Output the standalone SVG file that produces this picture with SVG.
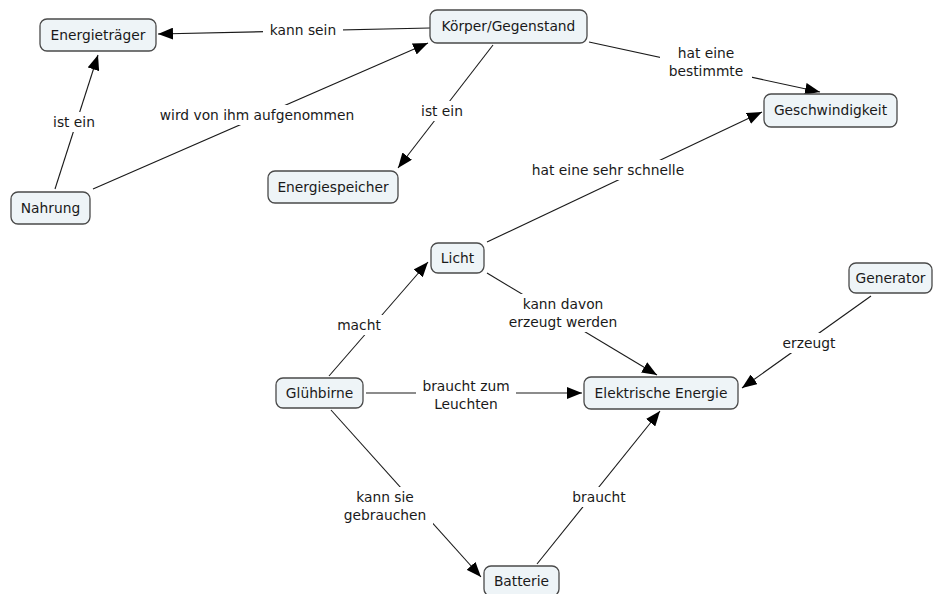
<svg xmlns="http://www.w3.org/2000/svg" width="933" height="594" viewBox="0 0 933 594">
<style>
.node rect{fill:#eef4f7;stroke:#4a4a4a;stroke-width:1.3}
text{font-family:"DejaVu Sans",Verdana,sans-serif;font-size:13.8px;fill:#1a1a1a;text-anchor:middle}
.edges line{stroke:#1a1a1a;stroke-width:1.1}
.lbl rect{fill:#fff;stroke:none}
</style>
<defs>
<marker id="arr" markerUnits="userSpaceOnUse" markerWidth="16" markerHeight="12" refX="15" refY="6" orient="auto">
<path d="M0,0 L15,6 L0,12 Z" fill="#000"/>
</marker>
</defs>
<rect width="933" height="594" fill="#fff"/>
<g class="edges">
<line x1="430" y1="28" x2="158" y2="34" marker-end="url(#arr)"/>
<line x1="55" y1="189" x2="98" y2="55" marker-end="url(#arr)"/>
<line x1="93" y1="189" x2="428" y2="43" marker-end="url(#arr)"/>
<line x1="493" y1="45" x2="398" y2="168" marker-end="url(#arr)"/>
<line x1="589" y1="42" x2="820" y2="92" marker-end="url(#arr)"/>
<line x1="487" y1="242" x2="762" y2="112" marker-end="url(#arr)"/>
<line x1="329" y1="376" x2="428" y2="262" marker-end="url(#arr)"/>
<line x1="487" y1="273" x2="657" y2="375" marker-end="url(#arr)"/>
<line x1="366" y1="393" x2="582" y2="393" marker-end="url(#arr)"/>
<line x1="871" y1="296" x2="742" y2="388" marker-end="url(#arr)"/>
<line x1="331" y1="410" x2="481" y2="577" marker-end="url(#arr)"/>
<line x1="537" y1="564" x2="660" y2="411" marker-end="url(#arr)"/>
</g>
<g class="lbl">
<rect x="263" y="20" width="80" height="20"/><text x="303" y="35">kann sein</text>
<rect x="46" y="112" width="56" height="20"/><text x="74" y="127">ist ein</text>
<rect x="150" y="105" width="214" height="20"/><text x="257" y="120">wird von ihm aufgenommen</text>
<rect x="414" y="101" width="56" height="20"/><text x="442" y="116">ist ein</text>
<rect x="660" y="43" width="92" height="38"/><text x="706" y="58">hat eine</text><text x="706" y="76">bestimmte</text>
<rect x="522" y="160" width="172" height="20"/><text x="608" y="175">hat eine sehr schnelle</text>
<rect x="331" y="315" width="56" height="20"/><text x="359" y="330">macht</text>
<rect x="501" y="294" width="124" height="38"/><text x="563" y="309">kann davon</text><text x="563" y="327">erzeugt werden</text>
<rect x="416" y="376" width="100" height="38"/><text x="466" y="391">braucht zum</text><text x="466" y="409">Leuchten</text>
<rect x="776" y="333" width="66" height="20"/><text x="809" y="348">erzeugt</text>
<rect x="337" y="487" width="96" height="38"/><text x="385" y="502">kann sie</text><text x="385" y="520">gebrauchen</text>
<rect x="568" y="487" width="62" height="20"/><text x="599" y="502">braucht</text>
</g>
<g id="energietraeger" class="node"><rect x="40" y="19" width="116" height="32" rx="7"/><text x="98" y="40">Energieträger</text></g>
<g id="nahrung" class="node"><rect x="11" y="192" width="79" height="32" rx="7"/><text x="50.5" y="213">Nahrung</text></g>
<g id="koerper" class="node"><rect x="430" y="10" width="157" height="33" rx="7"/><text x="508.5" y="31">Körper/Gegenstand</text></g>
<g id="energiespeicher" class="node"><rect x="268" y="171" width="130" height="32" rx="7"/><text x="333" y="192">Energiespeicher</text></g>
<g id="geschwindigkeit" class="node"><rect x="764" y="94" width="133" height="33" rx="7"/><text x="830.5" y="115">Geschwindigkeit</text></g>
<g id="licht" class="node"><rect x="431" y="243" width="53" height="30" rx="7"/><text x="457.5" y="263">Licht</text></g>
<g id="gluehbirne" class="node"><rect x="276" y="378" width="87" height="30" rx="7"/><text x="319.5" y="398">Glühbirne</text></g>
<g id="elektrische" class="node"><rect x="584" y="377" width="154" height="32" rx="7"/><text x="661" y="398">Elektrische Energie</text></g>
<g id="generator" class="node"><rect x="849" y="263" width="83" height="30" rx="7"/><text x="890.5" y="283">Generator</text></g>
<g id="batterie" class="node"><rect x="484" y="566" width="75" height="30" rx="7"/><text x="521.5" y="586">Batterie</text></g>
</svg>
